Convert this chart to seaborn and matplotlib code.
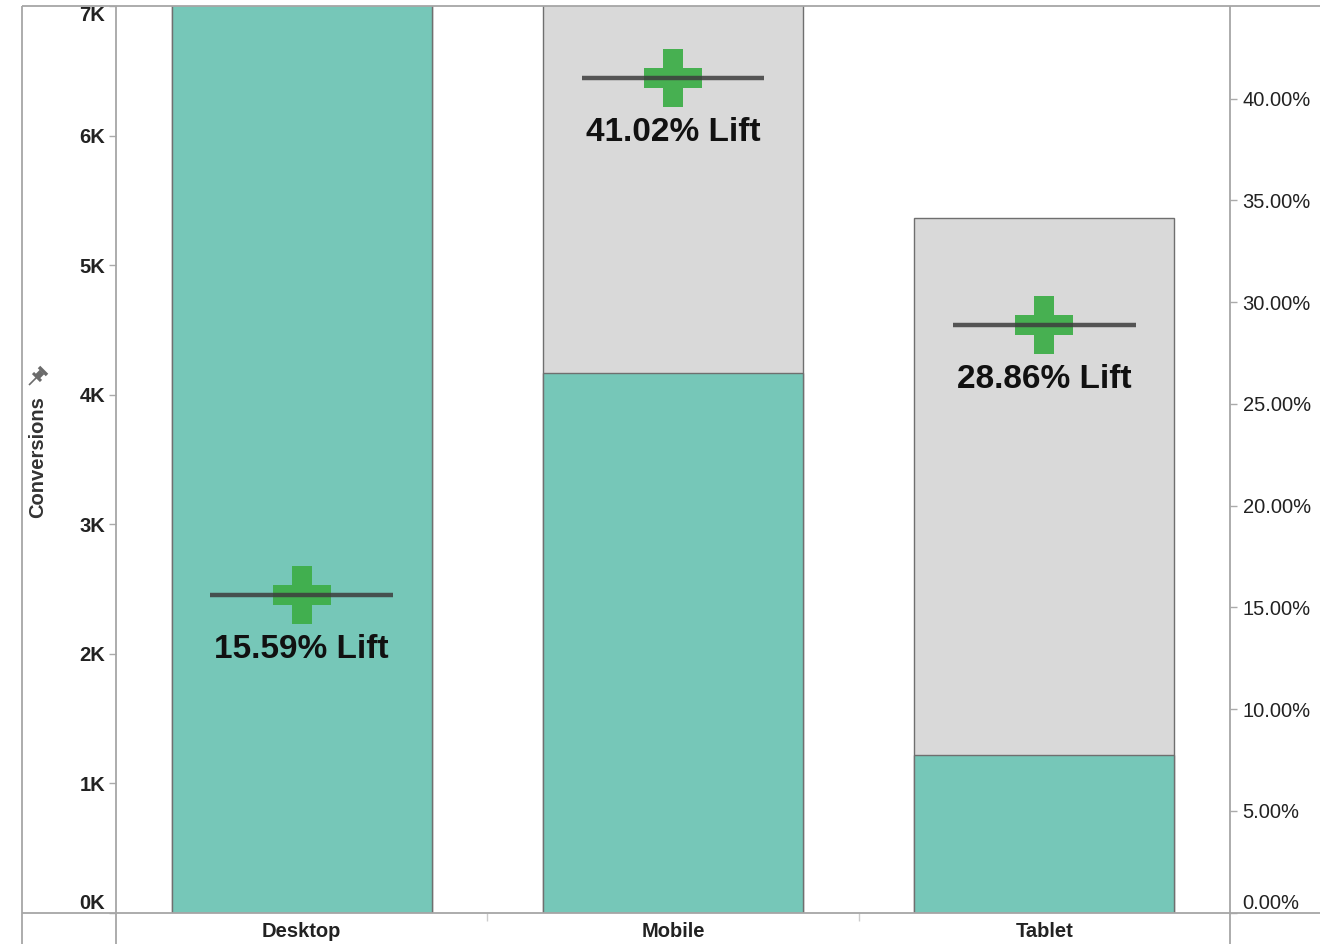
import numpy as np
import matplotlib
matplotlib.use("Agg")
import matplotlib.pyplot as plt
from matplotlib.lines import Line2D
import seaborn as sns

# ---- data ----
categories = ["Desktop", "Mobile", "Tablet"]
control_conversions = [7700, 7400, 5360]   # grey bars
test_conversions = [7600, 4170, 1220]      # teal bars
lift_pct = [15.59, 41.02, 28.86]           # right axis (%)
left_ticks = [0, 1000, 2000, 3000, 4000, 5000, 6000, 7000]
left_tick_labels = ["0K", "1K", "2K", "3K", "4K", "5K", "6K", "7K"]
right_ticks = [0, 5, 10, 15, 20, 25, 30, 35, 40]
right_tick_labels = ["0.00%", "5.00%", "10.00%", "15.00%", "20.00%",
                     "25.00%", "30.00%", "35.00%", "40.00%"]

sns.set_theme(style="white")
plt.rcParams["font.family"] = ["Liberation Sans", "DejaVu Sans"]

W, H = 1320, 944
fig = plt.figure(figsize=(W / 100, H / 100), dpi=100)
fig.patch.set_facecolor("white")

x0, x1, ytop, ybot = 116, 1230, 6, 912.6
ax = fig.add_axes([x0 / W, (H - ybot) / H, (x1 - x0) / W, (ybot - ytop) / H])
ax.set_facecolor("white")

TEAL = "#76c7b8"
GREY = "#d9d9d9"
EDGE = "#6f6f6f"

sns.barplot(x=categories, y=control_conversions, color=GREY, edgecolor=EDGE,
            linewidth=1.0, width=0.7, saturation=1, ax=ax)
sns.barplot(x=categories, y=test_conversions, color=TEAL, edgecolor=EDGE,
            linewidth=1.0, width=0.7, saturation=1, ax=ax)
ax.set_xlim(-0.5, 2.5)
ax.set_ylim(0, 7000)
for s in ax.spines.values():
    s.set_visible(False)

ax.set_yticks(left_ticks)
ax.set_yticklabels(left_tick_labels, fontsize=14.5, fontweight="bold", color="#222222")
ax.tick_params(axis="y", length=5, width=1, color="#aaaaaa", pad=3, left=True)
tl = ax.get_yticklabels()
tl[0].set_va("bottom")
tl[-1].set_va("top")

ax.set_xticks(range(len(categories)))
ax.set_xticklabels(categories, fontsize=14.5, fontweight="bold", color="#222222")
ax.tick_params(axis="x", length=0, pad=7)
ax.set_xticks([0.5, 1.5], minor=True)
ax.tick_params(axis="x", which="minor", length=6, width=1, color="#cccccc", bottom=True)
ax.set_xlabel("")
ax.set_ylabel("Conversions", fontsize=14.5, fontweight="bold", color="#333333")
ax.yaxis.set_label_coords((47 - x0) / (x1 - x0), (ybot - 457) / (ybot - ytop))

# ---- right axis: lift ----
ax2 = ax.twinx()
ax2.set_ylim(0, 44.55)
for s in ax2.spines.values():
    s.set_visible(False)
xs = np.arange(len(categories))
sns.scatterplot(x=xs, y=lift_pct, marker="P", s=41.5 ** 2, color="#3fae4a",
                linewidth=0, alpha=0.95, ax=ax2, zorder=3)
ax2.hlines(lift_pct, xs - 0.246, xs + 0.246, colors="#3d3d3d", linewidth=3.2,
           alpha=0.85, zorder=4)
for i, v in enumerate(lift_pct):
    ax2.annotate(f"{v:.2f}% Lift", (i, v), xytext=(0, -45.4), textcoords="offset points",
                 ha="center", va="baseline", fontsize=24, fontweight="bold",
                 color="#111111", zorder=5)
ax2.set_xlim(-0.5, 2.5)
ax2.set_yticks(right_ticks)
ax2.set_yticklabels(right_tick_labels, fontsize=14.5, color="#222222")
ax2.tick_params(axis="y", length=5, width=1, color="#aaaaaa", pad=4, right=True)
rl = ax2.get_yticklabels()
rl[0].set_va("bottom")
ax2.set_ylabel("")

# ---- frame lines (Tableau style) ----
LC = "#a6a6a6"
def fline(xa, ya, xb, yb, color=LC, lw=1.3):
    fig.add_artist(Line2D([xa / W, xb / W], [1 - ya / H, 1 - yb / H],
                          color=color, linewidth=lw, transform=fig.transFigure,
                          zorder=10, solid_capstyle="butt"))

fline(22, ytop, W, ytop)              # top border
fline(22, ybot + 0.5, W, ybot + 0.5)  # baseline
fline(22, ytop, 22, H)                # outer left
fline(x0, ytop, x0, H)                # left axis
fline(x1, ytop, x1, H)                # right axis

# small pin icon next to the axis title
PIN = "#6b6b6b"
fline(29, 385, 37, 377, color=PIN, lw=1.2)    # needle
fline(33, 373, 41, 381, color=PIN, lw=2.2)    # base
fline(37, 377, 42, 372, color=PIN, lw=4.5)    # body
fline(39, 367, 47, 375, color=PIN, lw=2.5)    # cap

fig.savefig("out.png", dpi=100, facecolor="white")
